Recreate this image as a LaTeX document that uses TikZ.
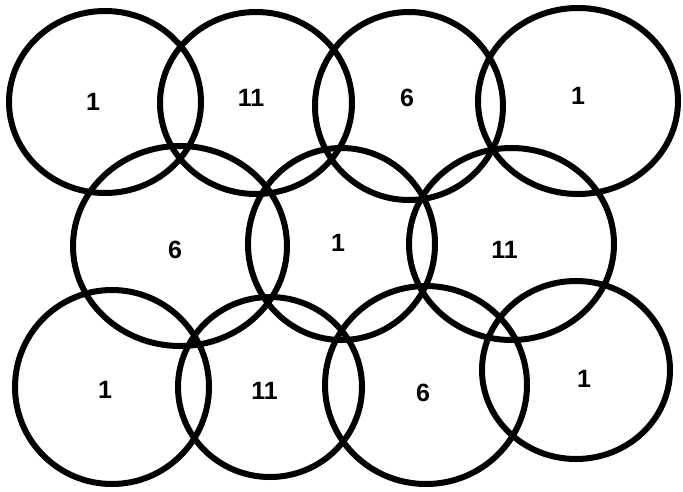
\documentclass[tikz,border=0pt]{standalone}
\usepackage{fontspec}
\setmainfont{Liberation Sans}
\begin{document}
\begin{tikzpicture}[x=1pt,y=-1pt,
  ring/.style={draw=black,line width=6pt},
  num/.style={font=\bfseries\fontsize{25}{25}\selectfont,inner sep=0pt}]
\useasboundingbox (0,0) rectangle (683,491);
% top row
\draw[ring] (105,102) ellipse [x radius=96,y radius=91];
\draw[ring] (256,103) ellipse [x radius=96,y radius=91];
\draw[ring] (409,106) ellipse [x radius=94,y radius=94];
\draw[ring] (578,101) ellipse [x radius=100,y radius=93];
% middle row
\draw[ring] (180,246) ellipse [x radius=107,y radius=100];
\draw[ring] (341.5,244) ellipse [x radius=93.5,y radius=96];
\draw[ring] (511.5,244) ellipse [x radius=102.5,y radius=96];
% bottom row
\draw[ring] (112,387) ellipse [x radius=97,y radius=97];
\draw[ring] (270,387) ellipse [x radius=92,y radius=90];
\draw[ring] (426,385) ellipse [x radius=101,y radius=99];
\draw[ring] (576,370) ellipse [x radius=94,y radius=89];
% labels
\node[num] (t1) at (93,101.5) {1};
\node[num] (t2) at (251,98) {11};
\node[num] (t3) at (407,98) {6};
\node[num] (t4) at (578,96) {1};
\node[num] (m1) at (175,250) {6};
\node[num] (m2) at (338,243) {1};
\node[num] (m3) at (504.5,249.5) {11};
\node[num] (b1) at (105,390) {1};
\node[num] (b2) at (264.5,391) {11};
\node[num] (b3) at (423,393) {6};
\node[num] (b4) at (584,379) {1};
\end{tikzpicture}
\end{document}
